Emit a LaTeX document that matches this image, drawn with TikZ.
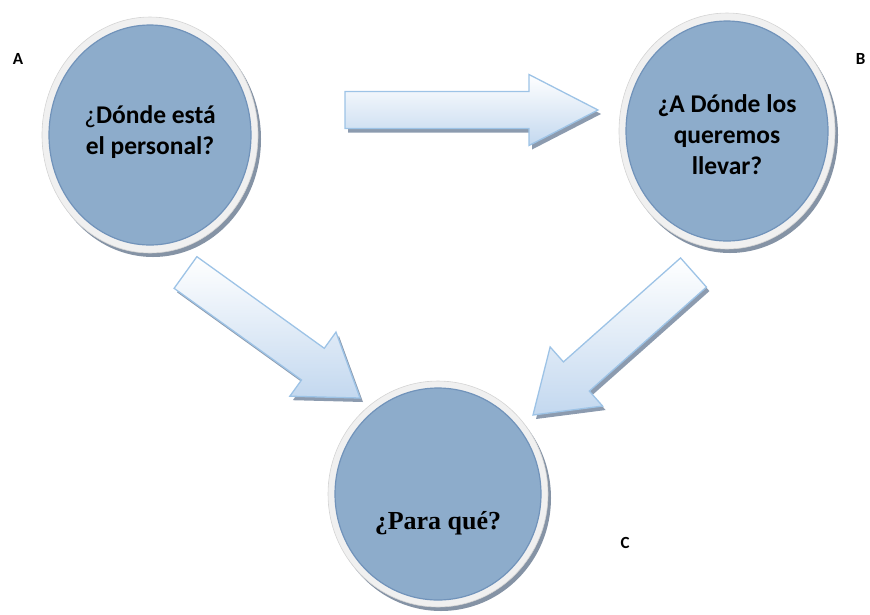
\documentclass[tikz,border=0pt]{standalone}
\usepackage{fontspec}
\newfontfamily\carlito{Carlito}
\newfontfamily\libserif{Liberation Serif}
\usetikzlibrary{shapes.geometric,shadows,calc}
\definecolor{ringgray}{HTML}{F0F0F0}
\definecolor{ringedge}{HTML}{D4D4D4}
\definecolor{discblue}{HTML}{8DACCB}
\definecolor{discedge}{HTML}{7193BA}
\definecolor{shadowgray}{HTML}{8593A5}
\definecolor{arrowline}{HTML}{9DC3E6}
\definecolor{arrowfill}{HTML}{C3D8EF}
\definecolor{arrowshadow}{HTML}{8C9BAF}
\tikzset{ring/.style={ellipse,fill=ringgray,draw=ringedge,line width=0.6pt,
  drop shadow={shadow xshift=3pt,shadow yshift=-4pt,fill=shadowgray,opacity=1}},
  disc/.style={ellipse,fill=discblue,draw=discedge,line width=1.2pt},
  question/.style={font=\carlito\bfseries\fontsize{25.5}{31}\selectfont,align=center},
  answer/.style={font=\libserif\bfseries\fontsize{26}{31}\selectfont},
  letter/.style={font=\carlito\bfseries\fontsize{17}{19}\selectfont},
  arrowbody/.style={draw=arrowline,line width=1.3pt,top color=white,bottom color=arrowfill,
  drop shadow={shadow xshift=3pt,shadow yshift=-4pt,fill=arrowshadow,opacity=1}}}
\newcommand{\blockarrow}[5]{%
  \coordinate (hb) at ($(#2)!#5!(#1)$);
  \draw[arrowbody] ($(#1)!#3!90:(#2)$) -- ($(hb)!#3!90:(#2)$) -- ($(hb)!#4!90:(#2)$) -- (#2)
    -- ($(hb)!#4!-90:(#2)$) -- ($(hb)!#3!-90:(#2)$) -- ($(#1)!#3!-90:(#2)$) -- cycle;}

\begin{document}
\begin{tikzpicture}[x=1pt,y=-1pt]
\useasboundingbox (0,0) rectangle (870,614);
\coordinate (tailAB) at (345,110);
\coordinate (tipAB) at (598,110);
\coordinate (tailAC) at (185.5,272.5);
\coordinate (tipAC) at (360,398);
\coordinate (tailBC) at (693.5,272.5);
\coordinate (tipBC) at (533,415);
\blockarrow{tailAB}{tipAB}{18.5pt}{35.5pt}{69pt}
\blockarrow{tailAC}{tipAC}{19.5pt}{39.5pt}{58pt}
\blockarrow{tailBC}{tipBC}{19.5pt}{39.5pt}{58pt}

\node[ring,minimum width=216pt,minimum height=236pt] (ringA) at (150,135) {};
\node[disc,minimum width=202pt,minimum height=220pt] (A) at (ringA) {};
\node[question] (Atext) at ([yshift=3pt]A.center) {{\mdseries ¿}Dónde está\\el personal?};

\node[ring,minimum width=216pt,minimum height=236pt] (ringB) at (727,131) {};
\node[disc,minimum width=202pt,minimum height=220pt] (B) at (ringB) {};
\node[question] (Btext) at ([yshift=-4pt]B.center) {¿A Dónde los\\queremos\\llevar?};

\node[ring,minimum width=220pt,minimum height=226pt] (ringC) at (438,494) {};
\node[disc,minimum width=206pt,minimum height=212pt] (C) at (ringC) {};
\node[answer] (Ctext) at ([yshift=-29pt]C.center) {¿Para qué?};

\node[letter] (labA) at (18,59) {A};
\node[letter,anchor=east] (labB) at (869,59) {B};
\node[letter] (labC) at (625,543) {C};
\end{tikzpicture}
\end{document}
